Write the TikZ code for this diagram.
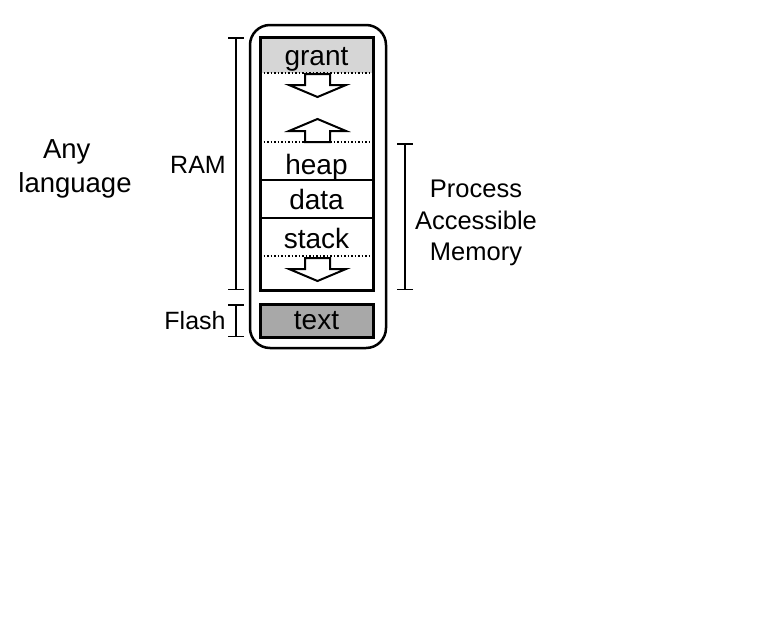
\documentclass[tikz,border=0pt]{standalone}
\usepackage{fontspec}
\setmainfont{Liberation Sans}
\usetikzlibrary{arrows.meta}
\definecolor{grantgray}{HTML}{D6D6D6}
\definecolor{flashgray}{HTML}{A8A8A8}

\begin{document}
\begin{tikzpicture}[x=1pt,y=-1pt,
    seg/.style={anchor=base,inner sep=0pt,font=\fontsize{28}{34}\selectfont},
    lbl/.style={align=center,inner sep=0pt,font=\fontsize{25}{31}\selectfont},
    membox/.style={draw,line width=3pt,outer sep=0pt,minimum width=113pt},
    segline/.style={line width=1.5pt},
    gapline/.style={line width=1.5pt,dotted},
    growarrow/.style={draw,fill=white,line width=2pt,line join=miter},
    bracket/.style={line width=1.5pt,{Bar[width=16pt]}-{Bar[width=16pt]}}]
  \useasboundingbox (0,0) rectangle (768,624);
  % process box
  \draw[line width=2.5pt,rounded corners=20pt] (250,25) rectangle (386,348);
  \fill[grantgray] (260,37) rectangle (373,73);
  \node[membox,minimum height=253pt] (ram) at (316.5,163.5) {};
  \node[membox,fill=flashgray,minimum height=33pt,font=\fontsize{28}{34}\selectfont] (flash) at (316.5,320.5) {text};
  \draw[gapline] (260,73) -- (373,73);
  \draw[gapline] (260,142) -- (373,142);
  \draw[segline] (260,180) -- (373,180);
  \draw[segline] (260,218) -- (373,218);
  \draw[gapline] (260,256) -- (373,256);
  \node[seg] (grant) at (316.5,65) {grant};
  \node[seg] (heap) at (316.5,174) {heap};
  \node[seg] (data) at (316.5,209) {data};
  \node[seg] (stack) at (316.5,248) {stack};
  % growth arrows
  \foreach \y in {74,258}
    \draw[growarrow] (305,\y) -- ++(25,0) -- ++(0,11) -- ++(16,0) -- ++(-28.5,12)
      -- ++(-28.5,-12) -- ++(16,0) -- cycle;
  \draw[growarrow] (305,142) -- ++(0,-11) -- ++(-16,0) -- ++(28.5,-12) -- ++(28.5,12)
    -- ++(-16,0) -- ++(0,11) -- cycle;
  % brackets
  \draw[bracket] ([xshift=-24pt]ram.north west) -- ([xshift=-24pt]ram.south west);
  \draw[bracket] ([xshift=-24pt]flash.north west) -- ([xshift=-24pt]flash.south west);
  \draw[bracket] ([xshift=32pt]ram.south east) -- ++(0,-147);
  \node[lbl] (ramlbl) at (198,164.5) {RAM};
  \node[lbl] (flashlbl) at (195,321) {Flash};
  \node[lbl,font=\fontsize{27.5}{34}\selectfont] (lang) at (75,168.5) {Any\hspace*{0.6em}\\language};
  \node[lbl,font=\fontsize{25.5}{31.5}\selectfont] (pam) at (476,223) {Process\\Accessible\\Memory};
\end{tikzpicture}
\end{document}
